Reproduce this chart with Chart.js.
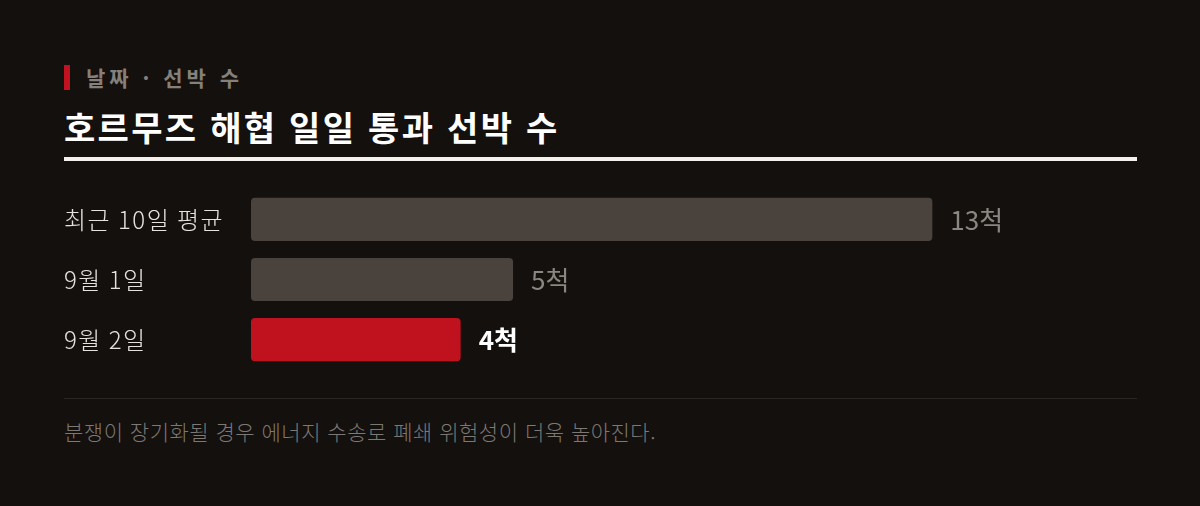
<!DOCTYPE html>
<html lang="ko">
<head>
<meta charset="utf-8">
<title>호르무즈 해협 일일 통과 선박 수</title>
<script src="https://cdn.jsdelivr.net/npm/chart.js"></script>
<style>
  html, body { margin: 0; padding: 0; background: #13100e; }
  body { width: 1200px; height: 506px; position: relative; overflow: hidden;
         font-family: "Noto Sans CJK KR", "Noto Sans", sans-serif; }
  .kicker { position: absolute; left: 64px; top: 65px; height: 25px; line-height: 25px;
            padding-left: 16px; border-left: 6px solid #c0121f; box-sizing: border-box;
            color: #86807b; font-size: 21px; font-weight: 700; letter-spacing: 4px; }
  .title { position: absolute; left: 64px; top: 104px; line-height: 46px;
           color: #ffffff; font-size: 34px; font-weight: 700; letter-spacing: 2.3px; }
  .rule { position: absolute; left: 64px; top: 157px; width: 1073px; height: 4px; background: #f4f1ec; }
  .wrap { position: absolute; left: 64px; top: 175px; width: 1078px; height: 209px; }
  .foot-line { position: absolute; left: 64px; top: 398px; width: 1073px; height: 1px; background: #2a2623; }
  .foot { position: absolute; left: 64px; top: 416px; line-height: 30px;
          color: #7d7873; font-size: 21px; font-weight: 300; letter-spacing: 0.5px; }
</style>
</head>
<body>
  <div class="kicker">날짜 · 선박 수</div>
  <div class="title">호르무즈 해협 일일 통과 선박 수</div>
  <div class="rule"></div>
  <div class="wrap"><canvas id="chart"></canvas></div>
  <div class="foot-line"></div>
  <div class="foot">분쟁이 장기화될 경우 에너지 수송로 폐쇄 위험성이 더욱 높아진다.</div>

<script>
  const categories = ['최근 10일 평균', '9월 1일', '9월 2일'];
  const ships = [13, 5, 4];
  const valueLabels = ['13척', '5척', '4척'];
  const barColors = ['#4a423d', '#4a423d', '#c0111f'];
  const labelColors = ['#8c8681', '#8c8681', '#ffffff'];
  const labelWeights = ['400', '400', '700'];

  // spacing for the category tick labels (canvas letterSpacing)
  const tickSpacing = {
    id: 'tickSpacing',
    beforeDraw(chart) { chart.ctx.letterSpacing = '1.5px'; },
    afterDraw(chart) { chart.ctx.letterSpacing = '0px'; }
  };

  const valueLabelPlugin = {
    id: 'valueLabels',
    afterDatasetsDraw(chart) {
      const ctx = chart.ctx;
      const meta = chart.getDatasetMeta(0);
      ctx.save();
      ctx.letterSpacing = '0px';
      ctx.textBaseline = 'middle';
      ctx.textAlign = 'left';
      meta.data.forEach((bar, i) => {
        ctx.font = labelWeights[i] + ' 26px "Noto Sans CJK KR"';
        ctx.fillStyle = labelColors[i];
        ctx.fillText(valueLabels[i], bar.x + 18, bar.y + 1);
      });
      ctx.restore();
    }
  };

  new Chart(document.getElementById('chart'), {
    type: 'bar',
    data: {
      labels: categories,
      datasets: [{
        data: ships,
        backgroundColor: barColors,
        borderRadius: 4,
        borderSkipped: false,
        barPercentage: 0.72,
        categoryPercentage: 1
      }]
    },
    options: {
      indexAxis: 'y',
      responsive: true,
      maintainAspectRatio: false,
      animation: false,
      layout: { padding: 0 },
      plugins: { legend: { display: false }, tooltip: { enabled: false } },
      scales: {
        x: { display: false, min: 0, max: 17 },
        y: {
          grid: { display: false },
          border: { display: false },
          afterFit(scale) { scale.width = 187; },
          ticks: {
            crossAlign: 'far',
            padding: 0,
            color: '#e6e2de',
            font: { family: '"Noto Sans CJK KR"', size: 24, weight: '300' }
          }
        }
      }
    },
    plugins: [tickSpacing, valueLabelPlugin]
  });
</script>
</body>
</html>
